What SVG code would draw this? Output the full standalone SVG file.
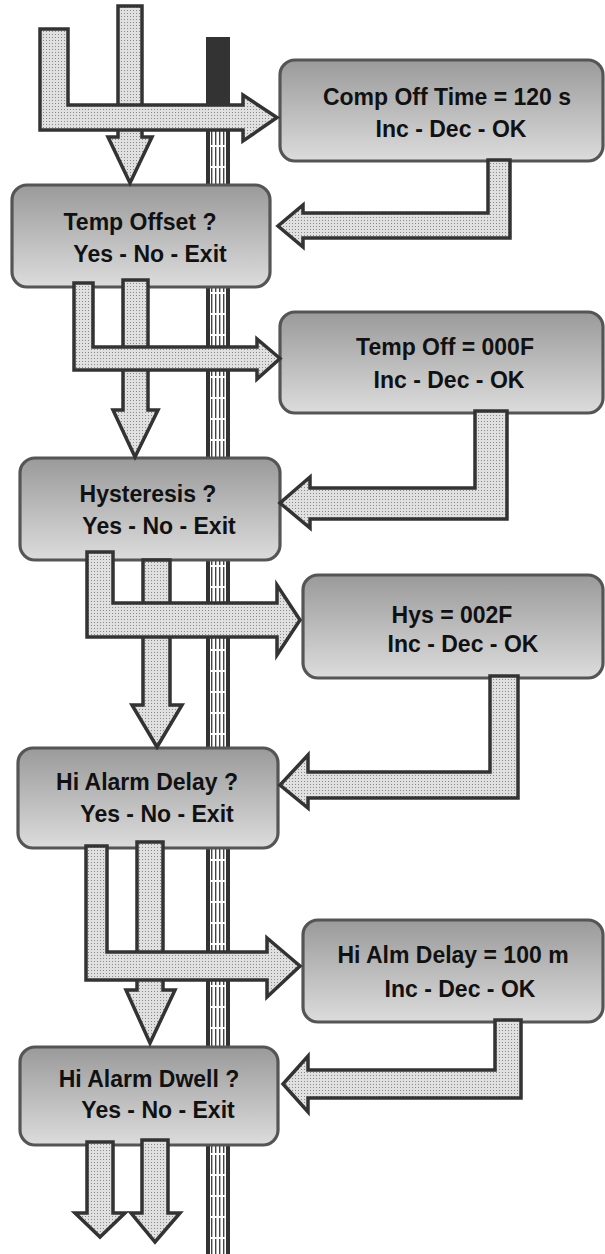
<svg xmlns="http://www.w3.org/2000/svg" width="605" height="1254" viewBox="0 0 605 1254">
<style>
.box{fill:url(#boxg);stroke:#555;stroke-width:3.2}
.arr{fill:url(#dots);stroke:#333;stroke-width:3.5;stroke-linejoin:miter}
.t{font-family:"Liberation Sans",Arial,sans-serif;font-weight:bold;font-size:23px;fill:#111;text-anchor:middle}
</style>
<defs>
<linearGradient id="boxg" x1="0" y1="0" x2="0" y2="1">
<stop offset="0" stop-color="#9a9a9a"/>
<stop offset="1" stop-color="#dcdcdc"/>
</linearGradient>
<pattern id="dots" width="3" height="3" patternUnits="userSpaceOnUse">
<rect width="3" height="3" fill="#e0e0e0"/>
<rect x="1" y="1" width="1" height="1" fill="#8a8a8a"/>
</pattern>
<pattern id="stripes" x="210" y="0" width="4" height="21" patternUnits="userSpaceOnUse">
<rect width="4" height="21" fill="#fff"/>
<rect x="1" y="0" width="1.4" height="19" fill="#444"/>
</pattern>
</defs>
<rect width="605" height="1254" fill="#fff"/>
<g id="bar">
<rect x="206" y="37" width="24" height="1217" fill="#333"/>
<rect x="210" y="118" width="16" height="1136" fill="url(#stripes)"/>
</g>
<g id="node-comp-off-time">
<rect class="box" x="280" y="60" width="323" height="101" rx="15"/>
<text class="t" x="447" y="105">Comp Off Time = 120 s</text>
<text class="t" x="451" y="137">Inc - Dec - OK</text>
</g>
<g id="node-temp-offset-q">
<rect class="box" x="12" y="185" width="258" height="102" rx="15"/>
<text class="t" x="140" y="230">Temp Offset ?</text>
<text class="t" x="150" y="262">Yes - No - Exit</text>
</g>
<g id="node-temp-off">
<rect class="box" x="280" y="312" width="323" height="101" rx="15"/>
<text class="t" x="445" y="355">Temp Off = 000F</text>
<text class="t" x="449" y="388">Inc - Dec - OK</text>
</g>
<g id="node-hysteresis-q">
<rect class="box" x="20" y="458" width="260" height="102" rx="15"/>
<text class="t" x="148" y="502">Hysteresis ?</text>
<text class="t" x="159" y="534">Yes - No - Exit</text>
</g>
<g id="node-hys">
<rect class="box" x="303" y="575" width="300" height="103" rx="15"/>
<text class="t" x="452" y="623">Hys = 002F</text>
<text class="t" x="463" y="652">Inc - Dec - OK</text>
</g>
<g id="node-hi-alarm-delay-q">
<rect class="box" x="18" y="748" width="260" height="100" rx="15"/>
<text class="t" x="147" y="790">Hi Alarm Delay ?</text>
<text class="t" x="157" y="822">Yes - No - Exit</text>
</g>
<g id="node-hi-alm-delay">
<rect class="box" x="303" y="920" width="300" height="102" rx="15"/>
<text class="t" x="453" y="963">Hi Alm Delay = 100 m</text>
<text class="t" x="460" y="997">Inc - Dec - OK</text>
</g>
<g id="node-hi-alarm-dwell-q">
<rect class="box" x="20" y="1047" width="258" height="98" rx="15"/>
<text class="t" x="149" y="1087">Hi Alarm Dwell ?</text>
<text class="t" x="158" y="1118">Yes - No - Exit</text>
</g>
<g id="connectors">
<polygon class="arr" points="118,6 142,6 142,137 152,137 130,183 108,137 118,137"/>
<polygon class="arr" points="40,29 68,29 68,105 243,105 243,95 277,117.5 243,141 243,130 40,130"/>
<polygon class="arr" points="510,160 510,238 303,238 303,247 278,226 303,205 303,213 488,213 488,160"/>
<polygon class="arr" points="123,280 148,280 148,410 158,410 135,457 113,410 123,410"/>
<polygon class="arr" points="74,283 93,283 93,347 257,347 257,339 280,358.5 257,379 257,370 74,370"/>
<polygon class="arr" points="507,411 507,519 310,519 310,528 280,503 310,477 310,488 475,488 475,411"/>
<polygon class="arr" points="143,560 170,560 170,705 182,705 157,747 132,705 143,705"/>
<polygon class="arr" points="87,552 113,552 113,603 277,603 277,585 300,620 277,655 277,637 87,637"/>
<polygon class="arr" points="518,676 518,798 308,798 308,808 280,785 308,755 308,772 490,772 490,676"/>
<polygon class="arr" points="137,842 163,842 163,990 175,990 150,1043 126,990 137,990"/>
<polygon class="arr" points="86,846 107,846 107,952 267,952 267,938 300,966 267,997 267,980 86,980"/>
<polygon class="arr" points="521,1020 521,1098 308,1098 308,1112 283,1084 308,1056 308,1070 495,1070 495,1020"/>
<polygon class="arr" points="87,1142 113,1142 113,1213 125,1213 100,1237 75,1213 87,1213"/>
<polygon class="arr" points="142,1140 168,1140 168,1213 180,1213 155,1242 131,1213 142,1213"/>
</g>
</svg>
